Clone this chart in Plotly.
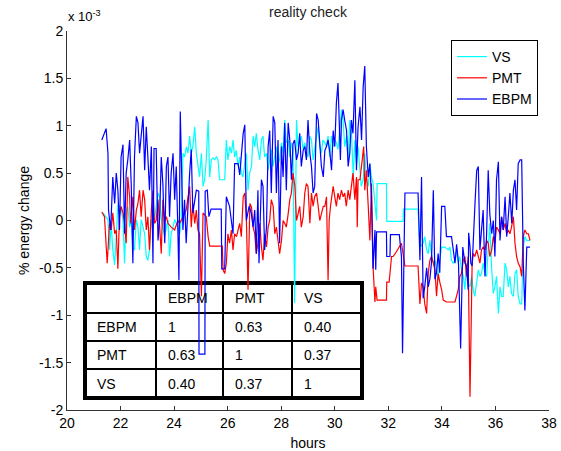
import plotly.graph_objects as go

# ---------------- data (values in units of 1e-3) ----------------
vs_hours = [21.34, 21.53, 21.59, 21.65, 21.71, 21.78, 21.84, 21.90, 21.96, 22.03, 22.09, 22.15, 22.21, 22.27,
            22.34, 22.40, 22.46, 22.52, 22.59, 22.65, 22.71, 22.77, 22.84, 22.90, 22.96, 23.02, 23.08, 23.15,
            23.21, 23.27, 23.33, 23.40, 23.46, 23.52, 23.58, 23.65, 23.71, 23.77, 23.83, 23.89, 23.96, 24.02,
            24.08, 24.14, 24.21, 24.27, 24.33, 24.39, 24.46, 24.52, 24.58, 24.64, 24.70, 24.77, 24.83, 24.89,
            24.95, 25.02, 25.08, 25.14, 25.20, 25.27, 25.33, 25.39, 25.45, 25.51, 25.58, 25.64, 25.70, 25.89,
            25.95, 26.01, 26.08, 26.14, 26.20, 26.26, 26.32, 26.39, 26.45, 26.51, 26.57, 26.64, 26.70, 26.76,
            26.82, 26.89, 26.95, 27.01, 27.07, 27.13, 27.20, 27.26, 27.32, 27.38, 27.45, 27.51, 27.57, 27.63,
            27.69, 27.76, 27.82, 27.88, 27.94, 28.01, 28.07, 28.13, 28.19, 28.26, 28.32, 28.38, 28.44, 28.50,
            28.57, 28.63, 28.69, 28.75, 28.82, 28.88, 28.94, 29.00, 29.07, 29.13, 29.19, 29.25, 29.32, 29.38,
            29.44, 29.50, 29.56, 29.63, 29.69, 29.75, 29.81, 29.88, 29.94, 30.00, 30.06, 30.12, 30.19, 30.25,
            30.31, 30.37, 30.44, 30.50, 30.56, 30.62, 30.69, 30.75, 30.81, 30.87, 30.93, 30.99, 31.06, 31.12,
            31.18, 31.25, 31.31, 31.37, 31.43, 31.50, 31.56, 31.58, 31.93, 31.94, 32.55, 32.57, 33.11, 33.18,
            33.30, 33.36, 33.43, 33.49, 33.55, 33.61, 33.68, 33.74, 33.80, 33.86, 33.92, 33.99, 34.11, 34.24,
            34.30, 34.36, 34.42, 34.49, 34.55, 34.61, 34.67, 34.73, 34.80, 34.86, 34.92, 34.98, 35.05, 35.11,
            35.17, 35.23, 35.30, 35.36, 35.42, 35.48, 35.54, 35.61, 35.67, 35.73, 35.79, 35.86, 35.92, 35.98,
            36.04, 36.11, 36.17, 36.23, 36.29, 36.36, 36.42, 36.48, 36.54, 36.60, 36.67, 36.73, 36.79, 36.85,
            36.92, 36.98, 37.04, 37.10, 37.17, 37.29]
vs_values = [0.08, 0.01, -0.31, -0.03, -0.31, -0.47, -0.17, 0.16, 0.15, 0.11, 0.01, -0.45, 0.08, 0.15,
             -0.07, 0.01, -0.29, -0.31, 0.01, -0.07, -0.31, 0.01, -0.07, -0.14, -0.38, -0.42, -0.31, 0.01,
             -0.07, 0.01, 0.15, 0.29, 0.25, 0.01, -0.07, -0.17, -0.07, 0.01, -0.38, -0.14, -0.07, 0.01,
             -0.03, -0.07, -0.14, 0.01, 0.71, 0.67, 0.78, 0.71, 0.89, 0.71, 0.78, 0.99, 0.71, 0.57,
             0.46, 0.71, 0.36, 0.43, 0.64, 1.06, 0.46, 0.64, 0.66, 0.64, 0.67, 0.64, 0.43, 0.43,
             0.85, 0.64, 0.78, 0.71, 0.85, 0.67, 0.74, 0.57, 0.67, 0.50, 0.46, 0.60, 0.71, 0.32,
             0.50, 0.57, 0.89, 0.78, 0.92, 0.75, 0.64, 0.85, 0.89, 0.67, 0.71, 0.53, 0.64, 0.75,
             0.57, 0.71, 0.78, 0.60, 0.64, 0.82, 0.71, 1.06, 0.82, 0.85, 0.67, 0.82, 0.75, -0.87,
             1.06, 0.78, 0.85, 0.89, 0.75, 0.82, 0.71, 0.67, 0.89, 0.85, 0.64, 0.78, 0.89, 0.99,
             0.78, 0.71, 0.85, 0.82, 0.78, 0.89, 0.67, 0.89, 0.78, 0.85, 0.82, 0.75, 0.99, 1.17,
             1.06, 0.78, 0.89, 0.64, 1.06, 0.96, 0.46, 0.85, 0.60, 0.78, 0.57, 0.36, 0.43, 0.71,
             0.43, 0.36, 0.60, 0.46, 0.39, 0.15, 0.00, 0.39, 0.39, -0.01, -0.01, 0.12, 0.12, -0.28,
             -0.24, -0.17, -0.31, -0.35, -0.21, -0.35, -0.45, -0.42, -0.49, -0.63, -0.42, -0.28, -0.28, -0.31,
             -0.28, -0.42, -0.45, -0.42, -0.31, -0.45, -0.38, -0.52, -0.59, -0.73, -0.45, -0.66, -0.70, -0.59,
             -0.73, -0.80, -0.66, -0.52, -0.59, -0.56, -0.45, -0.56, -0.59, -0.31, -0.03, -0.52, -0.77, -0.70,
             -0.59, -0.98, -0.70, -0.80, -0.80, -0.45, -0.52, -0.70, -0.59, -0.77, -0.80, -0.56, -0.52, -0.80,
             -0.88, -0.88, -0.28, -0.17, -0.21, -0.21]

pmt_hours = [21.30, 21.40, 21.50, 21.59, 21.65, 21.71, 21.78, 21.84, 21.90, 21.96, 22.02, 22.09, 22.15, 22.21,
             22.27, 22.34, 22.37, 22.42, 22.46, 22.52, 22.59, 22.65, 22.71, 22.77, 22.84, 22.90, 22.96, 23.02,
             23.08, 23.15, 23.21, 23.27, 23.33, 23.40, 23.46, 23.52, 23.58, 23.65, 23.71, 23.77, 23.89, 24.02,
             24.14, 24.21, 24.33, 24.45, 24.58, 24.64, 24.70, 24.77, 24.83, 24.89, 24.95, 25.02, 25.08, 25.20,
             25.27, 25.33, 25.80, 25.83, 25.89, 25.95, 26.01, 26.07, 26.14, 26.20, 26.26, 26.33, 26.39, 26.45,
             26.51, 26.58, 26.64, 26.70, 26.76, 26.80, 26.83, 26.89, 26.95, 27.01, 27.07, 27.13, 27.20, 27.26,
             27.32, 27.38, 27.45, 27.51, 27.57, 27.63, 27.70, 27.76, 27.82, 27.88, 27.94, 28.01, 28.07, 28.13,
             28.19, 28.26, 28.32, 28.38, 28.44, 28.51, 28.57, 28.63, 28.69, 28.75, 28.82, 28.88, 28.94, 29.00,
             29.07, 29.13, 29.19, 29.25, 29.32, 29.38, 29.44, 29.50, 29.57, 29.63, 29.69, 29.75, 29.79, 29.84,
             29.89, 29.94, 30.00, 30.06, 30.12, 30.18, 30.25, 30.31, 30.37, 30.43, 30.50, 30.56, 30.62, 30.68,
             30.75, 30.81, 30.84, 30.87, 30.94, 31.03, 31.08, 31.12, 31.18, 31.25, 31.31, 31.37, 31.43, 31.50,
             31.53, 31.58, 31.93, 31.94, 32.03, 32.12, 32.18, 32.30, 32.40, 32.49, 32.62, 33.11, 33.18, 33.24,
             33.30, 33.36, 33.43, 33.49, 33.55, 33.61, 33.68, 33.74, 33.80, 33.86, 33.93, 33.99, 34.05, 34.17,
             34.49, 34.55, 34.61, 34.67, 34.73, 34.80, 34.86, 34.92, 34.98, 35.05, 35.08, 35.13, 35.17, 35.23,
             35.30, 35.36, 35.42, 35.48, 35.54, 35.61, 35.67, 35.73, 35.79, 35.86, 35.92, 35.98, 36.04, 36.11,
             36.17, 36.23, 36.29, 36.36, 36.42, 36.48, 36.54, 36.60, 36.67, 36.73, 36.79, 36.85, 36.92, 36.98,
             37.04, 37.10, 37.17, 37.23, 37.29]
pmt_values = [0.09, 0.04, -0.45, -0.03, -0.10, 0.08, -0.14, -0.10, -0.51, 0.04, 0.15, 0.08, -0.03, -0.24,
              0.46, 0.25, -0.03, 0.15, 0.25, -0.10, 0.11, 0.18, 0.32, 0.04, 0.32, 0.22, -0.10, 0.04,
              -0.31, 0.11, 0.32, -0.03, 0.00, 0.22, -0.10, -0.35, 0.22, 0.00, 0.04, -0.03, -0.07, -0.10,
              0.00, -0.03, 0.04, 0.11, 0.36, -0.07, 0.18, -0.03, 0.11, -0.10, -0.14, -0.80, 0.08, 0.04,
              -0.17, -0.27, -0.27, -0.52, -0.56, -0.45, -0.14, -0.24, -0.10, -0.31, -0.14, -0.17, -0.10, -0.03,
              -0.17, 0.25, 0.29, 0.00, -0.73, -0.14, 0.18, 0.14, -0.07, -0.14, -0.35, -0.24, -0.03, -0.28,
              -0.42, -0.14, -0.28, -0.07, 0.00, 0.22, 0.15, -0.14, -0.07, -0.21, -0.35, -0.21, 0.00, -0.03,
              -0.07, 0.07, 0.22, 0.29, 0.50, 0.36, 0.00, 0.07, 0.15, -0.07, 0.04, 0.29, 0.39, 0.36,
              -0.03, 0.29, 0.15, 0.25, 0.29, 0.15, 0.00, 0.07, 0.15, 0.15, 0.25, -0.63, 0.00, 0.15,
              0.29, 0.36, 0.25, 0.15, 0.29, 0.22, 0.32, 0.25, 0.29, 0.15, 0.32, 0.22, 0.36, 0.50,
              0.22, 0.46, -0.07, 0.43, 0.43, 0.68, 0.78, 0.32, 0.53, 0.15, -0.21, 0.39, -0.49, -0.86,
              -0.70, -0.84, -0.84, -0.65, -0.65, -0.38, -0.38, -0.33, -0.28, -0.24, -0.48, -0.48, -0.88, -0.66,
              -0.70, -0.88, -0.98, -0.56, -0.42, -0.38, -0.45, -0.52, -0.80, -0.56, -0.66, -0.73, -0.84, -0.86,
              -0.86, -0.80, -0.73, -0.59, -0.56, -0.42, -0.38, -0.59, -0.38, -1.86, -1.16, -0.45, -0.35, -0.38,
              -0.31, -0.38, -0.45, -0.31, -0.28, -0.31, -0.21, -0.24, -0.38, -0.31, -0.17, -0.24, -0.07, -0.10,
              -0.14, 0.04, -0.10, -0.03, -0.14, -0.10, -0.14, -0.07, 0.04, -0.24, -0.38, -0.45, -0.49, -0.59,
              -0.17, -0.10, -0.14, -0.14, -0.21]

ebpm_hours = [21.30, 21.46, 21.53, 21.55, 21.63, 21.71, 21.78, 21.84, 21.90, 21.96, 22.02, 22.09, 22.15, 22.21,
              22.27, 22.34, 22.40, 22.46, 22.52, 22.59, 22.65, 22.71, 22.77, 22.84, 22.90, 22.96, 23.02, 23.08,
              23.15, 23.21, 23.25, 23.33, 23.40, 23.46, 23.52, 23.58, 23.65, 23.71, 23.77, 23.83, 23.89, 23.96,
              24.02, 24.08, 24.14, 24.18, 24.23, 24.27, 24.33, 24.39, 24.45, 24.58, 24.64, 24.70, 24.83, 24.92,
              24.93, 25.15, 25.16, 25.24, 25.30, 25.38, 25.76, 25.78, 25.89, 25.95, 26.07, 26.20, 26.26, 26.39,
              26.45, 26.58, 26.64, 26.70, 26.80, 26.88, 26.95, 27.01, 27.07, 27.13, 27.17, 27.26, 27.32, 27.38,
              27.45, 27.51, 27.57, 27.63, 27.70, 27.76, 27.82, 27.88, 27.94, 28.01, 28.07, 28.13, 28.19, 28.26,
              28.32, 28.38, 28.44, 28.50, 28.57, 28.63, 28.69, 28.75, 28.82, 28.88, 28.94, 29.00, 29.07, 29.13,
              29.19, 29.25, 29.32, 29.38, 29.44, 29.50, 29.57, 29.63, 29.69, 29.75, 29.82, 29.88, 29.94, 30.00,
              30.06, 30.12, 30.16, 30.21, 30.25, 30.31, 30.37, 30.44, 30.50, 30.56, 30.62, 30.68, 30.75, 30.81,
              30.87, 30.94, 31.00, 31.06, 31.12, 31.18, 31.25, 31.31, 31.37, 31.43, 31.50, 31.53, 31.56, 31.93,
              31.94, 32.06, 32.08, 32.41, 32.49, 32.53, 32.62, 33.11, 33.18, 33.24, 33.30, 33.36, 33.43, 33.49,
              33.55, 33.61, 33.68, 33.74, 33.80, 33.86, 33.92, 33.99, 34.11, 34.17, 34.36, 34.42, 34.49, 34.55,
              34.62, 34.70, 34.78, 34.86, 34.92, 34.98, 35.00, 35.05, 35.08, 35.13, 35.17, 35.24, 35.30, 35.36,
              35.42, 35.48, 35.54, 35.61, 35.67, 35.73, 35.79, 35.86, 35.92, 35.98, 36.04, 36.11, 36.17, 36.23,
              36.29, 36.36, 36.42, 36.48, 36.54, 36.61, 36.67, 36.73, 36.79, 36.85, 36.92, 36.98, 37.04, 37.10,
              37.17, 37.29]
ebpm_values = [0.85, 0.97, 0.71, 0.11, -0.10, 0.46, 0.18, 0.50, 0.32, -0.10, 0.67, 0.80, -0.14, 0.50,
               0.64, 0.85, 0.36, -0.45, 0.67, 1.10, 1.03, 0.71, 0.89, 1.10, 0.53, 0.99, 0.67, 0.32,
               0.78, -0.45, 0.76, 0.76, -0.21, 0.04, 0.67, 0.39, -0.24, 0.57, 0.67, 0.04, 0.50, 0.71,
               0.22, 0.57, -0.10, -0.63, 1.15, 0.67, -0.10, 0.22, -0.24, 0.50, 0.75, 0.08, 0.32, 0.31,
               -1.41, -1.41, 0.31, 0.32, 0.04, 0.12, 0.12, -0.51, -0.51, 0.25, 0.15, -0.14, 0.60, 0.60,
               0.48, 0.92, 1.01, 0.00, 0.15, 0.08, -0.07, 0.11, -0.35, 0.32, -0.45, 0.43, 0.36, -0.31,
               -0.07, 0.78, 0.95, 0.29, 1.10, 1.03, 0.29, 0.85, -0.24, 0.78, 0.46, 1.03, 0.32, 1.03,
               0.85, 0.43, 0.81, 0.85, 0.64, 0.71, 0.92, 0.57, 0.74, 0.78, 0.64, 1.06, 0.71, 0.57,
               0.29, 0.36, 1.13, 1.06, 0.85, 0.57, 0.46, 0.74, 0.78, 0.85, 0.71, 0.53, 0.95, 0.78,
               1.24, 1.45, 1.10, 0.64, 1.06, 1.17, 1.06, 0.95, 0.57, 0.71, 1.06, 0.92, 1.48, 0.53,
               0.99, 1.20, 0.85, 1.41, 1.63, 0.78, 0.46, 0.60, 0.25, -0.51, -0.10, -0.52, -0.12, -0.12,
               -0.38, -0.38, -0.15, -0.15, -0.38, -1.40, 0.29, 0.29, -0.42, 0.46, -0.82, -0.70, -0.50, -0.70,
               -0.62, -0.45, 0.32, -0.62, -0.55, -0.35, -0.55, 0.15, 0.15, -0.17, -0.17, -0.30, -0.45, -0.25,
               -0.45, -1.35, -0.28, -0.45, -0.48, -0.73, -0.13, -0.28, -0.45, -0.48, -0.17, 0.20, 0.53, 0.57,
               -0.31, -0.10, 0.11, -0.59, -0.14, 0.53, 0.07, -0.14, 0.00, -0.38, 0.43, 0.62, -0.21, 0.04,
               -0.10, 0.25, -0.17, 0.04, 0.29, -0.03, 0.32, 0.43, 0.11, 0.60, 0.64, 0.64, -0.45, -0.95,
               -0.28, -0.28]

x_tick_vals = [20, 22, 24, 26, 28, 30, 32, 34, 36, 38]
y_tick_vals = [-2, -1.5, -1, -0.5, 0, 0.5, 1, 1.5, 2]
y_tick_text = ["-2", "-1.5", "-1", "-0.5", "0", "0.5", "1", "1.5", "2"]

table_header = ["", "EBPM", "PMT", "VS"]
table_row_labels = ["EBPM", "PMT", "VS"]
table_cells = [["1", "0.63", "0.40"],
               ["0.63", "1", "0.37"],
               ["0.40", "0.37", "1"]]

# ---------------- layout constants ----------------
W, H = 561, 451
PL, PR, PT, PB = 67, 549, 31, 410
FONT = "Liberation Sans, Arial, Helvetica, sans-serif"


def px_x(px):
    return (px - PL) / (PR - PL)


def px_y(py):
    return (PB - py) / (PB - PT)


fig = go.Figure()
for name, xs, ys, col in [("VS", vs_hours, vs_values, "#00FFFF"),
                          ("PMT", pmt_hours, pmt_values, "#FF0000"),
                          ("EBPM", ebpm_hours, ebpm_values, "#0000FF")]:
    fig.add_trace(go.Scatter(x=xs, y=ys, mode="lines", name=name,
                             line=dict(color=col, width=1.2)))

# ---------------- table drawn with shapes + annotations ----------------
col_edges = [85, 156, 223, 292, 362]
row_edges = [283, 313, 341, 369, 398]
shapes = []
shapes.append(dict(type="rect", xref="paper", yref="paper",
                   x0=px_x(col_edges[0]), x1=px_x(col_edges[-1]),
                   y0=px_y(row_edges[-1]), y1=px_y(row_edges[0]),
                   fillcolor="white", line=dict(color="black", width=4), layer="below"))
for cx in col_edges[1:-1]:
    shapes.append(dict(type="line", xref="paper", yref="paper",
                       x0=px_x(cx), x1=px_x(cx), y0=px_y(row_edges[-1]), y1=px_y(row_edges[0]),
                       line=dict(color="black", width=2), layer="below"))
for ry in row_edges[1:-1]:
    shapes.append(dict(type="line", xref="paper", yref="paper",
                       x0=px_x(col_edges[0]), x1=px_x(col_edges[-1]), y0=px_y(ry), y1=px_y(ry),
                       line=dict(color="black", width=2), layer="below"))

annotations = []
table_rows = [table_header] + [[lab] + vals for lab, vals in zip(table_row_labels, table_cells)]
for r, row in enumerate(table_rows):
    cy = (row_edges[r] + row_edges[r + 1]) / 2
    for c, txt in enumerate(row):
        if not txt:
            continue
        annotations.append(dict(xref="paper", yref="paper", x=px_x(col_edges[c] + 10), y=px_y(cy),
                                xanchor="left", yanchor="middle", text=txt, showarrow=False,
                                font=dict(family=FONT, size=14, color="black")))

annotations.append(dict(xref="paper", yref="paper", x=px_x(66), y=px_y(26),
                        xanchor="left", yanchor="bottom", text="x 10<sup>-3</sup>", showarrow=False,
                        font=dict(family=FONT, size=13, color="black")))

fig.update_layout(
    width=W, height=H,
    margin=dict(l=PL, r=W - PR, t=PT, b=H - PB, pad=0, autoexpand=False),
    paper_bgcolor="white", plot_bgcolor="white",
    font=dict(family=FONT, size=14, color="black"),
    title=dict(text="reality check", x=px_x(308), xref="paper", y=1 - 12 / H, yref="container",
               xanchor="center", yanchor="middle", font=dict(family=FONT, size=14, color="#222222")),
    xaxis=dict(range=[20, 38], tickvals=x_tick_vals, ticks="inside", ticklen=4, tickcolor="#333333",
               showline=True, linecolor="#333333", linewidth=1, showgrid=False, zeroline=False,
               mirror=False, automargin=False, title=dict(text="hours", standoff=9, font=dict(size=14)),
               tickfont=dict(size=14)),
    yaxis=dict(range=[-2, 2], tickvals=y_tick_vals, ticktext=y_tick_text, ticks="inside", ticklen=4,
               tickcolor="#333333", showline=True, linecolor="#333333", linewidth=1, showgrid=False,
               zeroline=False, mirror=False, automargin=False,
               title=dict(text="% energy change", standoff=6, font=dict(size=14)),
               tickfont=dict(size=14)),
    legend=dict(x=px_x(538), y=px_y(40), xanchor="right", yanchor="top", bgcolor="white",
                bordercolor="black", borderwidth=1, font=dict(size=14), tracegroupgap=0),
    shapes=shapes, annotations=annotations, showlegend=True,
)

fig.write_html("out.html")
